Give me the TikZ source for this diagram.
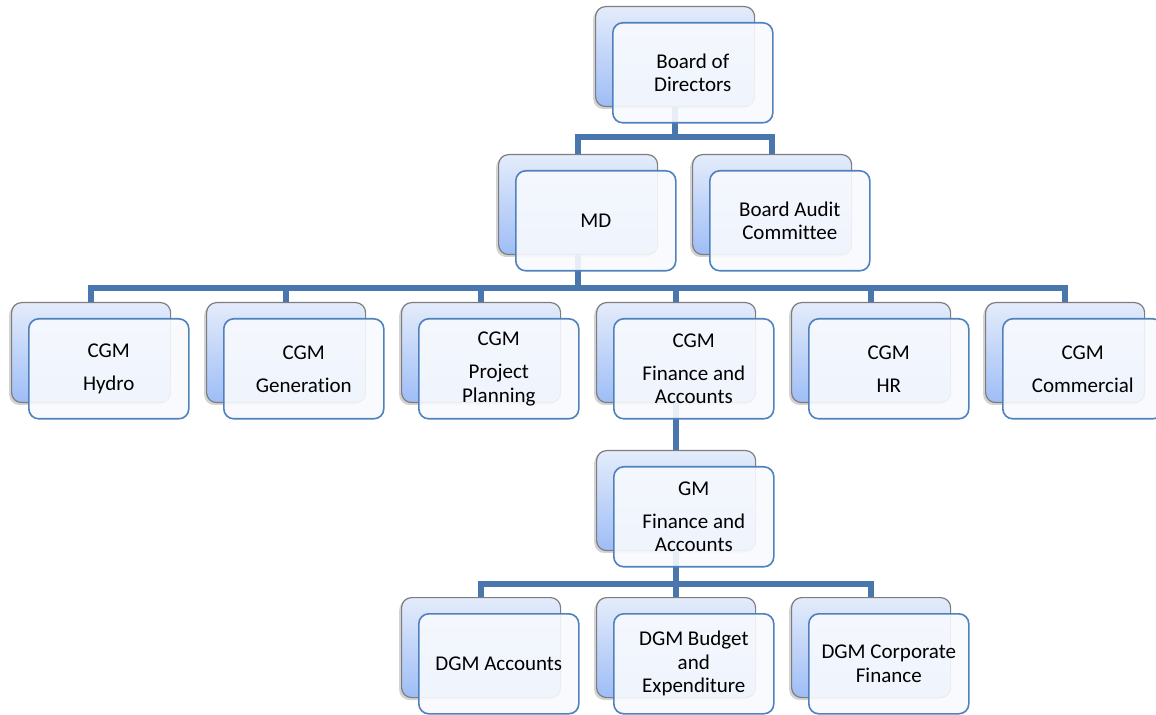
\documentclass[tikz,border=0pt]{standalone}
\usepackage{fontspec}
\setmainfont[Ligatures=CommonOff]{Carlito}
\usepackage{tikz}
\usetikzlibrary{calc, shadows, backgrounds}

\definecolor{linkblue}{RGB}{74,118,174}
\definecolor{edgeblue}{RGB}{79,129,189}
\definecolor{boxtop}{RGB}{228,236,251}
\definecolor{boxbot}{RGB}{158,189,246}
\definecolor{boxgray}{RGB}{125,125,125}
\definecolor{frontfill}{RGB}{248,250,254}

\begin{document}
\begin{tikzpicture}[x=0.5pt, y=-0.5pt,
    back/.style={draw=boxgray, line width=0.6pt, rounded corners=5pt,
        top color=boxtop, bottom color=boxbot, anchor=north west,
        minimum width=79.5pt, minimum height=50pt, inner sep=0pt,
        drop shadow={shadow xshift=-1.2pt, shadow yshift=-1.2pt, opacity=0.35}},
    front/.style={draw=edgeblue, line width=0.8pt, rounded corners=5pt,
        fill=frontfill, fill opacity=0.9, text opacity=1, anchor=north west,
        minimum width=80pt, minimum height=50pt, inner sep=0pt, align=center,
        font=\fontsize{10.5}{11.8}\selectfont},
    conn/.style={draw=linkblue, line width=2.8pt}]

    \useasboundingbox (0,0) rectangle (1156,715);

    % boxes: name / left / top / text
    \foreach \n/\x/\y/\t in {
        bod/595/6/{Board of\\Directors},
        md/498/154/{MD},
        bac/692/154/{Board Audit\\Committee},
        hyd/11/302/{CGM\\[4.7pt]Hydro},
        gen/206/302/{CGM\\[4.7pt]Generation},
        pp/401/302/{CGM\\[4.7pt]Project\\Planning},
        fa/596/302/{CGM\\[4.7pt]Finance and\\Accounts},
        hr/791/302/{CGM\\[4.7pt]HR},
        com/985/302/{CGM\\[4.7pt]Commercial},
        gm/596/450/{GM\\[4.7pt]Finance and\\Accounts},
        acc/401/597/{DGM Accounts},
        bud/596/597/{DGM Budget\\and\\Expenditure},
        cf/791/597/{DGM Corporate\\Finance}}
    {
        \node[back] (\n) at (\x,\y) {};
        \node[front] (\n-f) at ($(\x,\y)+(17,16)$) {\t};
    }

    \begin{pgfonlayer}{background}
        \draw[conn] (bod.south) -- ++(0,30) -| (md.north);
        \draw[conn] (bod.south) -- ++(0,30) -| (bac.north);
        \foreach \c in {hyd, gen, pp, fa, hr, com}
            \draw[conn] (md.south) -- ++(0,33) -| (\c.north);
        \draw[conn] (fa.south) -- (gm.north);
        \foreach \c in {acc, bud, cf}
            \draw[conn] (gm.south) -- ++(0,33) -| (\c.north);
    \end{pgfonlayer}
\end{tikzpicture}
\end{document}
